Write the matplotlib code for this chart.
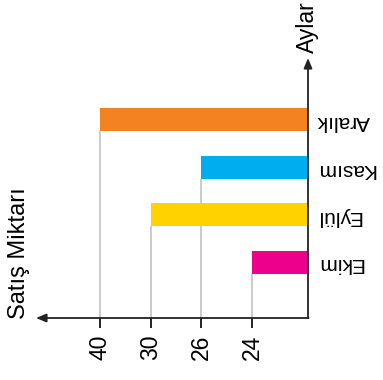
import numpy as np
import matplotlib
matplotlib.use("Agg")
import matplotlib.pyplot as plt

months = ["Ekim", "Eylül", "Kasım", "Aralık"]
sales = [24, 30, 26, 40]
colors = ["#EC008C", "#FFD200", "#00AEEF", "#F58220"]
tick_values = [40, 30, 26, 24]

plt.rcParams["font.family"] = ["Liberation Sans", "DejaVu Sans"]

# the value axis is not linear: 24, 26, 30, 40 sit at equal steps
knots_v = [0, 24, 26, 30, 40, 100]
knots_p = [0, 56, 107, 157, 208, 400]


def forward(v):
    return np.interp(v, knots_v, knots_p)


def inverse(p):
    return np.interp(p, knots_p, knots_v)


W, H = 383, 380
fig = plt.figure(figsize=(W / 100, H / 100), dpi=100)
ax = fig.add_axes([0, (H - 318) / H, 308 / W, 318 / H])
ax.set_xscale("function", functions=(forward, inverse))

step = 47.5
ypos = np.arange(len(months))
bar_h = 23 / step
ylo = -56 / step
ax.set_xlim(inverse(308), 0)
ax.set_ylim(ylo, ylo + 318 / step)

ax.barh(ypos, sales, height=bar_h, color=colors, zorder=3)
ax.vlines(sales, ylo, ypos - bar_h / 2, color="#BDBDBD", lw=1.1, zorder=2)

for s in ax.spines.values():
    s.set_visible(False)

# axes with arrows
ax.annotate("", xy=(1, 1 - 58 / 318), xytext=(1, 0), xycoords="axes fraction",
            arrowprops=dict(arrowstyle="-|>,head_length=0.6,head_width=0.25",
                            color="#222222", lw=1.3, shrinkA=0, shrinkB=0),
            annotation_clip=False)
ax.annotate("", xy=(36 / 308, 0), xytext=(1.002, 0), xycoords="axes fraction",
            arrowprops=dict(arrowstyle="-|>,head_length=0.6,head_width=0.25",
                            color="#222222", lw=1.3, shrinkA=0, shrinkB=0),
            annotation_clip=False)

ax.set_xticks(tick_values)
ax.set_xticklabels([str(t) for t in tick_values], rotation=90, fontsize=16.5)
ax.xaxis.set_minor_locator(matplotlib.ticker.NullLocator())
ax.tick_params(axis="x", length=7, width=1.4, color="#222222", pad=5)

ax.yaxis.tick_right()
ax.set_yticks(ypos)
ax.set_yticklabels(months, rotation=180, fontsize=15)
ax.tick_params(axis="y", length=0, pad=6)

fig.text(307 / W, 1 - 1 / H, "Aylar", rotation=90, ha="center", va="top",
         fontsize=16.5)
fig.text(19 / W, 1 - 253 / H, "Satış Miktarı", rotation=90, ha="center",
         va="center", fontsize=17)

fig.savefig("out.png", dpi=100)
